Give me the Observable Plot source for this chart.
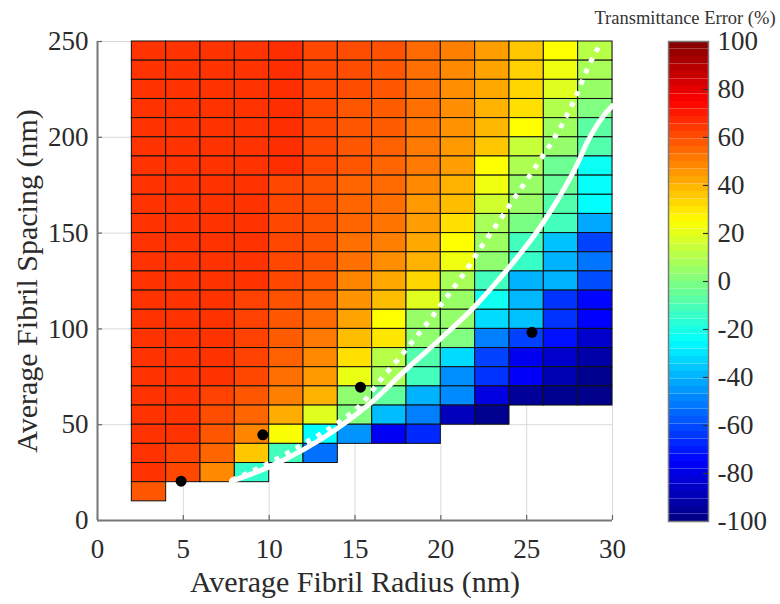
<!DOCTYPE html>
<html><head><meta charset="utf-8">
<script src="https://cdn.jsdelivr.net/npm/d3@7"></script>
<script src="https://cdn.jsdelivr.net/npm/@observablehq/plot@0.6"></script>
<style>
body{margin:0;background:#fff;}
#wrap{position:relative;width:780px;height:604px;overflow:hidden;}
#main{position:absolute;left:0;top:0;}
#cbar{position:absolute;left:640px;top:0;}
#cbtitle{position:absolute;left:560px;width:250px;top:8px;text-align:center;font:18.5px "Liberation Serif",serif;color:#333;white-space:nowrap;}
</style></head><body>
<div id="wrap"><div id="main"></div><div id="cbar"></div><div id="cbtitle">Transmittance Error (%)</div></div>
<script>
// ---- data ----
const radiusEdges  = [2,4,6,8,10,12,14,16,18,20,22,24,26,28,30];
const spacingEdges = [10,20,30,40,50,60,70,80,90,100,110,120,130,140,150,160,170,180,190,200,210,220,230,240,250];
const xTicks = [0,5,10,15,20,25,30];
const yTicks = [0,50,100,150,200,250];
const cbTicks = [-100,-80,-60,-40,-20,0,20,40,60,80,100];

// transmittance error (%) per radius column, listed from spacing 250 nm downward
const errR3  = [65,65,65,65,65,65,65,65,65,65,65,65,65,65,65,65,65,65,65,65,65,65,65,58];
const errR5  = [65,65,65,65,65,65,65,65,65,65,65,65,65,65,65,65,65,65,65,65,65,62,61];
const errR7  = [65,65,65,65,65,65,65,65,65,65,65,65,65,65,65,65,65,65,62,60,58,55,48];
const errR9  = [65,65,65,65,65,65,65,65,65,65,65,65,65,62,62,62,62,61,58,55,49,36,-15];
const errR11 = [66,66,66,66,66,66,66,61,61,61,61,61,61,59,58,57,56,53,50,41,24,-12];
const errR13 = [61,61,61,61,61,61,61,59,59,59,59,59,58,56,54,51,48,45,40,19,-25,-53];
const errR15 = [60,60,60,58,58,58,58,55,55,55,53,53,49,46,43,38,31,21,3,0,-46];
const errR17 = [59,58,58,57,57,56,55,54,53,52,50,47,42,38,25,30,11,8,-6,-38,-77];
const errR19 = [54,53,53,53,52,51,51,48,45,44,42,40,33,19,5,3,-9,-12,-40,-50,-67];
const errR21 = [50,48,47,47,46,45,44,40,38,31,25,22,8,5,4,0,-32,-47,-48,-88];
const errR23 = [44,43,42,40,39,36,25,22,16,8,6,3,-12,-22,-32,-50,-62,-65,-81,-97];
const errR25 = [36,34,33,31,25,14,9,5,5,-1,-12,-14,-40,-39,-37,-62,-78,-76,-95];
const errR27 = [25,22,19,10,6,4,-4,-5,-9,-12,-37,-40,-40,-65,-65,-72,-85,-90,-97];
const errR29 = [11,8,5,0,-7,-9,-23,-24,-25,-42,-62,-52,-60,-74,-75,-85,-92,-97,-98];

// boundary curves
const dottedR = [7.8,10,12,14,15.5,16.5,17.5,18.4,19.3,20.2,21.2,22.3,23.6,24.5,25.7,26.9,27.9,28.6,29.3];
const dottedS = [21,30,40,51,62,73.5,84,94,104,115,127,142,159,171,187,204,222,237,249];
const solidR  = [7.8,10,12,13.8,16,18,20,22,23.3,26,28,28.5,29,29.5,30];
const solidS  = [20.5,28,37,47,62,79,95,112,125,156,187,197,205,211.5,216.5];

// measured samples
const pointR = [4.87,9.63,15.32,25.31];
const pointS = [20.5,44.7,69.6,98.2];

// ---- build tables ----
const columns = [errR3,errR5,errR7,errR9,errR11,errR13,errR15,errR17,errR19,errR21,errR23,errR25,errR27,errR29];
const lastEdge = spacingEdges.length - 1;
const cells = [];
columns.forEach((col, c) => {
  col.forEach((v, i) => {
    cells.push({x1: radiusEdges[c], x2: radiusEdges[c+1], y1: spacingEdges[lastEdge-i-1], y2: spacingEdges[lastEdge-i], v});
  });
});
const dotted = dottedR.map((r,i) => ({r, s: dottedS[i]}));
const solid = solidR.map((r,i) => ({r, s: solidS[i]}));
const points = pointR.map((r,i) => ({r, s: pointS[i]}));

const jet = {
  type: "linear",
  domain: [-100,-75,-25,25,75,100],
  range: ["#000080","#0000ff","#00ffff","#ffff00","#ff0000","#800000"],
  interpolate: "rgb"
};
const font = {fontFamily: "'Liberation Serif', serif", fontSize: "27px", color: "#2b2b2b", background: "transparent", overflow: "visible"};

const mainPlot = Plot.plot({
  width: 640, height: 604,
  marginLeft: 97, marginRight: 28, marginTop: 41, marginBottom: 84,
  x: {domain: [0,30]},
  y: {domain: [0,250]},
  color: jet,
  style: font,
  marks: [
    Plot.gridX(xTicks, {stroke: "#d9d9d9", strokeOpacity: 1}),
    Plot.gridY(yTicks, {stroke: "#d9d9d9", strokeOpacity: 1}),
    Plot.rect(cells, {x1: "x1", x2: "x2", y1: "y1", y2: "y2", fill: "v", stroke: "#111", strokeWidth: 1}),
    Plot.ruleX(xTicks, {x: d => d, insetTop: 474, stroke: "#666", strokeWidth: 1.2}),
    Plot.ruleY(yTicks, {y: d => d, insetRight: 510, stroke: "#666", strokeWidth: 1.2}),
    Plot.ruleX([0], {stroke: "#777", strokeWidth: 2}),
    Plot.ruleY([0], {stroke: "#777", strokeWidth: 2}),
    Plot.line(solid, {x: "r", y: "s", stroke: "white", strokeWidth: 5, curve: "monotone-x"}),
    Plot.line(dotted, {x: "r", y: "s", stroke: "white", strokeWidth: 5, strokeDasharray: "5,7", strokeLinecap: "butt", curve: "monotone-x"}),
    Plot.dot(points, {x: "r", y: "s", r: 5.5, fill: "black", stroke: "none"}),
    Plot.axisX({ticks: xTicks, tickSize: 0, tickPadding: 18, label: null}),
    Plot.axisY({ticks: yTicks, tickSize: 0, tickPadding: 9, label: null}),
    Plot.text(["Average Fibril Radius (nm)"], {frameAnchor: "bottom", textAnchor: "middle", dy: 62, fontSize: 30, fill: "#2b2b2b", lineAnchor: "middle"}),
    Plot.text(["Average Fibril Spacing (nm)"], {frameAnchor: "left", textAnchor: "middle", dx: -70, rotate: -90, fontSize: 30, fill: "#2b2b2b", lineAnchor: "middle"})
  ]
});
document.getElementById("main").appendChild(mainPlot);

// colour bar
const bands = d3.range(64).map(k => {
  const y1 = -100 + k * 200 / 64, y2 = y1 + 200 / 64;
  return {y1, y2, v: (y1 + y2) / 2};
});
const cbarPlot = Plot.plot({
  width: 140, height: 604,
  marginLeft: 28, marginRight: 72, marginTop: 41, marginBottom: 83,
  y: {domain: [-100,100]},
  color: jet,
  style: font,
  marks: [
    Plot.rect(bands, {y1: "y1", y2: "y2", fill: "v"}),
    Plot.frame({stroke: "#7a7a7a", strokeWidth: 1.5}),
    Plot.ruleY(cbTicks.slice(1,-1), {y: d => d, insetLeft: 35, stroke: "#333", strokeWidth: 1.2}),
    Plot.axisY({ticks: cbTicks, anchor: "right", tickSize: 0, tickPadding: 9, tickFormat: d => String(d), label: null})
  ]
});
document.getElementById("cbar").appendChild(cbarPlot);
</script>
</body></html>
